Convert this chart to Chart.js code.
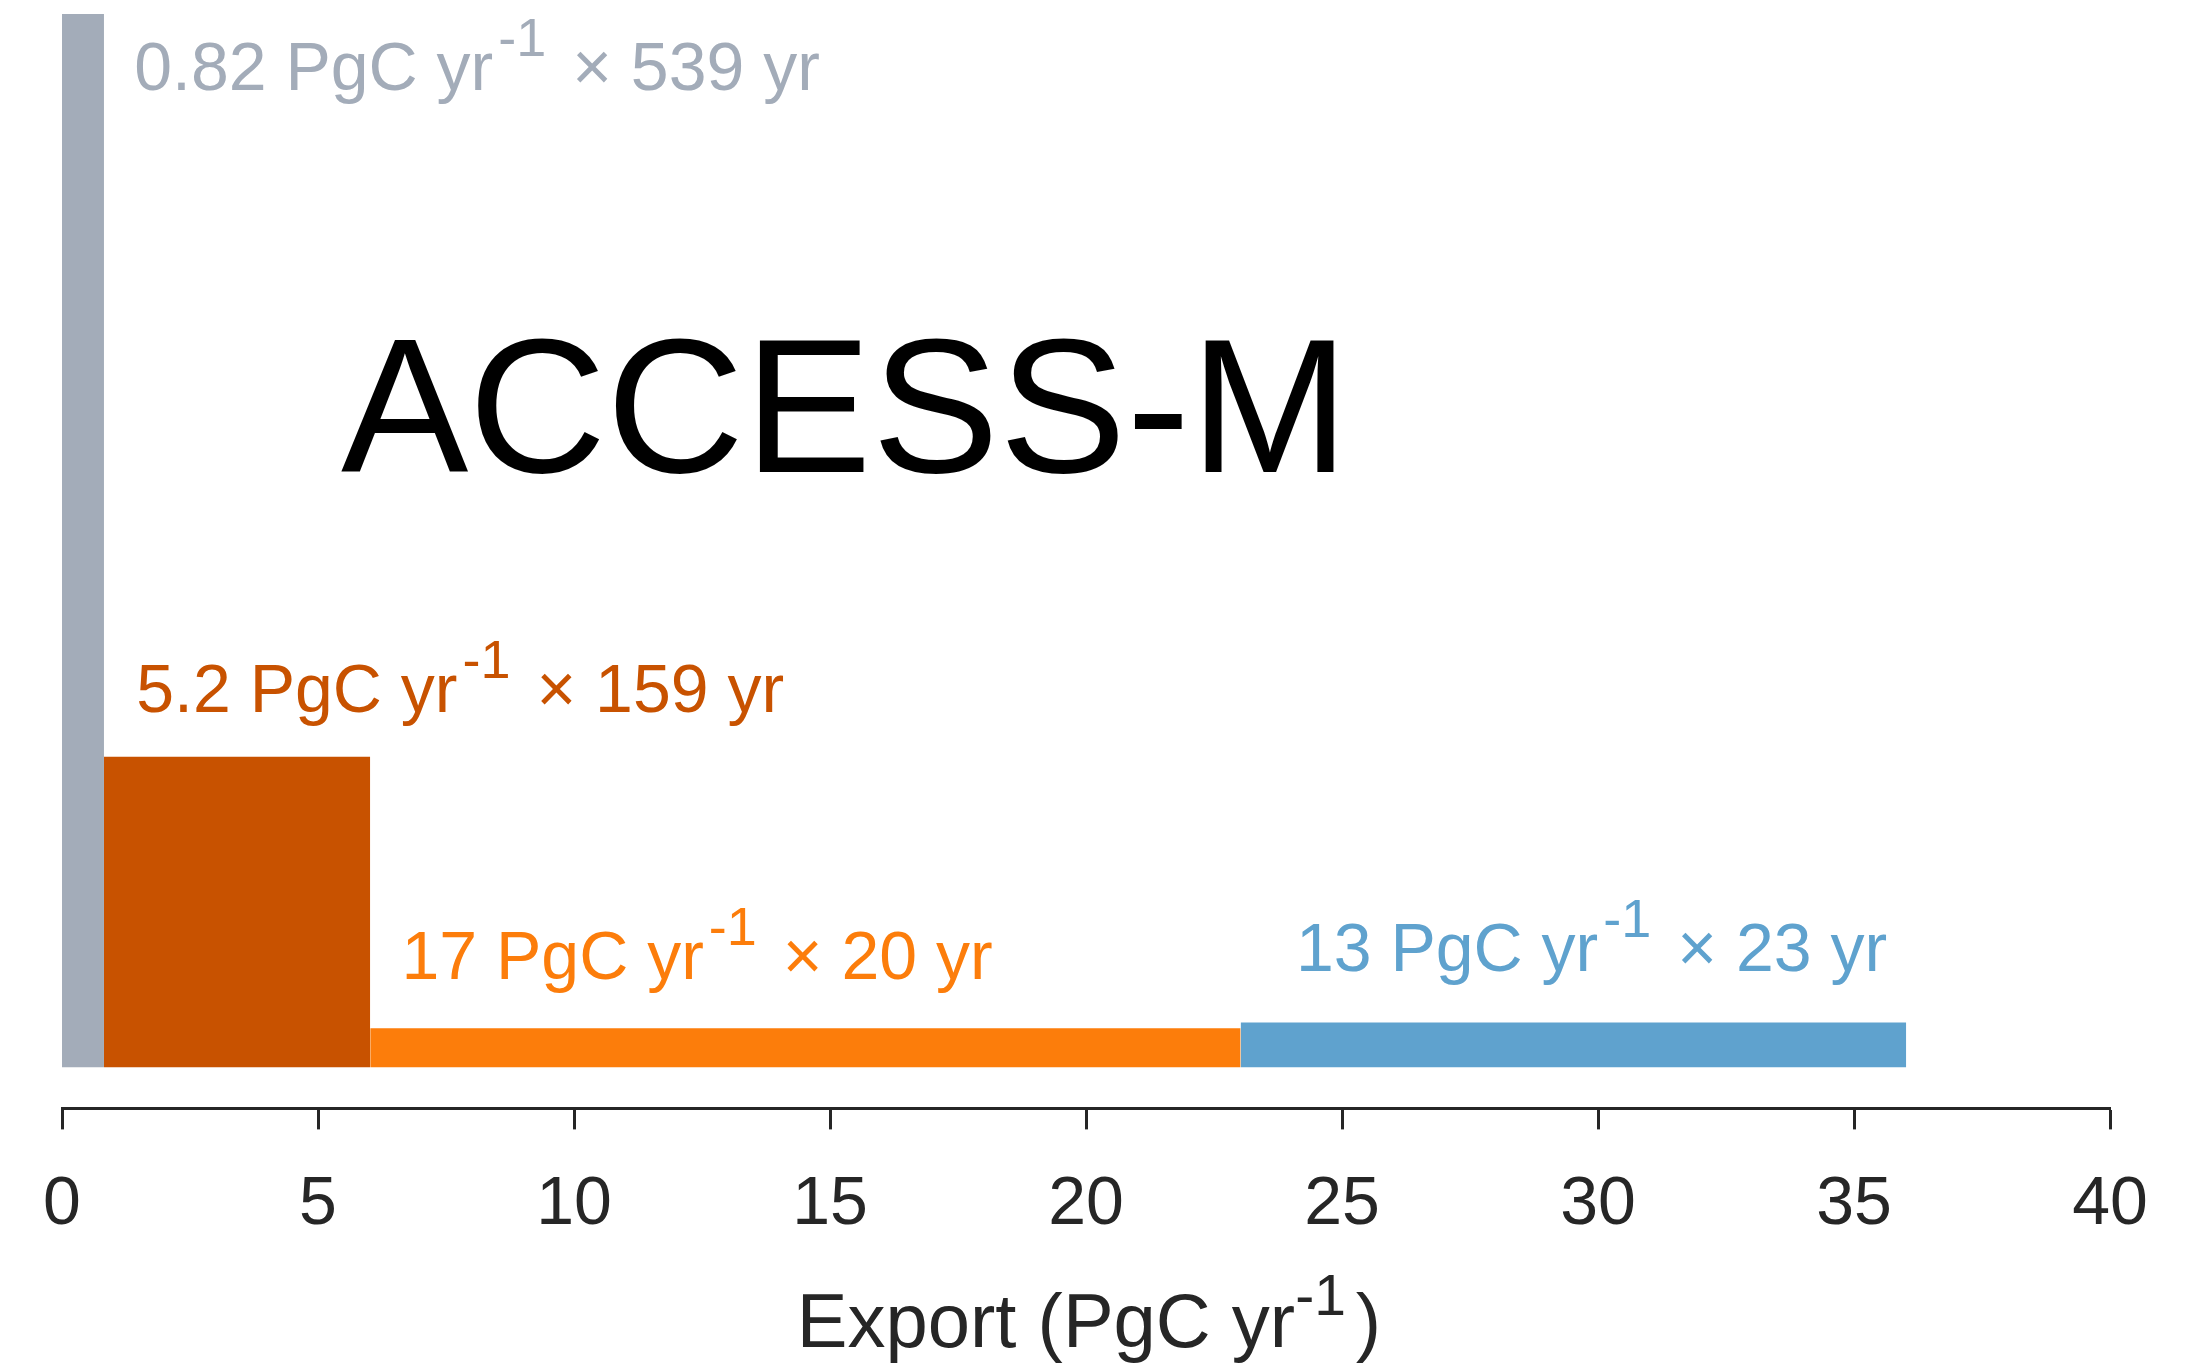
<!DOCTYPE html>
<html>
<head>
<meta charset="utf-8">
<title>ACCESS-M export</title>
<script src="https://cdn.jsdelivr.net/npm/chart.js@4.4.1/dist/chart.umd.min.js"></script>
<style>
  html, body { margin: 0; padding: 0; background: #ffffff; }
  #wrap { width: 2198px; height: 1365px; position: relative; }
</style>
</head>
<body>
<div id="wrap"><canvas id="chart"></canvas></div>
<script>
// ---- data ----
const modelName = 'ACCESS-M';
const exportRates = [0.82, 5.2, 17, 13];      // PgC yr-1 (bar widths)
const durations = [539, 159, 20, 23];         // yr (bar heights)
const xTickValues = [0, 5, 10, 15, 20, 25, 30, 35, 40];
const xTitleParts = ['Export (PgC yr', '-1', ')'];

// ---- styling ----
const FONT = '"Liberation Sans", Arial, Helvetica, sans-serif';
const AXIS_COLOR = '#262626';
const barColors = ['#A3ACB9', '#C85200', '#FC7D0B', '#5FA2CE'];
// where each bar's caption sits: x in export units, y as pixel offset from bar top
const captionX = [1.41, 1.45, 6.63, 24.1];
const captionDy = [76, -45, -49, -51];

// left edge of each bar = running total of the widths before it
const barStarts = exportRates.map((_, i) =>
  exportRates.slice(0, i).reduce((a, b) => a + b, 0));

const datasets = exportRates.map((w, i) => ({
  data: [
    { x: barStarts[i], y: durations[i] },
    { x: barStarts[i] + w, y: durations[i] }
  ],
  backgroundColor: barColors[i],
  borderColor: barColors[i],
  borderWidth: 0,
  pointRadius: 0,
  pointHoverRadius: 0,
  tension: 0,
  fill: 'origin'
}));

// text with a raised exponent part
function drawRich(ctx, parts, x, y, align, color) {
  let total = 0;
  parts.forEach(p => {
    ctx.font = `${p.size}px ${FONT}`;
    p.w = ctx.measureText(p.text).width;
    total += (p.gap || 0) + p.w;
  });
  let cx = align === 'right' ? x - total : align === 'center' ? x - total / 2 : x;
  ctx.fillStyle = color;
  ctx.textAlign = 'left';
  ctx.textBaseline = 'alphabetic';
  parts.forEach(p => {
    cx += p.gap || 0;
    ctx.font = `${p.size}px ${FONT}`;
    ctx.fillText(p.text, cx, y - (p.raise || 0));
    cx += p.w;
  });
}

const annotations = {
  id: 'annotations',
  afterDatasetsDraw(chart) {
    const { ctx, chartArea } = chart;
    const xs = chart.scales.x, ys = chart.scales.y;
    ctx.save();

    // bar captions
    exportRates.forEach((w, i) => {
      const top = ys.getPixelForValue(durations[i]);
      const x = xs.getPixelForValue(captionX[i]);
      drawRich(ctx, [
        { text: `${w} PgC yr`, size: 68 },
        { text: '-1', size: 54, raise: 34, gap: 5 },
        { text: `\u00D7 ${durations[i]} yr`, size: 68, gap: 26 }
      ], x, top + captionDy[i], 'left', barColors[i]);
    });

    // model name
    ctx.font = `191px ${FONT}`;
    ctx.fillStyle = '#000000';
    ctx.textAlign = 'left';
    ctx.textBaseline = 'alphabetic';
    ctx.fillText(modelName, chartArea.left + 279, chartArea.top + 458);

    // x-axis title
    drawRich(ctx, [
      { text: xTitleParts[0], size: 76 },
      { text: xTitleParts[1], size: 57, raise: 32, gap: 0 },
      { text: xTitleParts[2], size: 76, gap: 10 }
    ], (xs.left + xs.right) / 2 + 3, 1347, 'center', AXIS_COLOR);

    ctx.restore();
  }
};

new Chart(document.getElementById('chart'), {
  type: 'line',
  data: { datasets },
  plugins: [annotations],
  options: {
    responsive: true,
    maintainAspectRatio: false,
    animation: false,
    events: [],
    layout: { padding: { left: 62, right: 88, top: 14, bottom: 84 } },
    plugins: {
      legend: { display: false },
      tooltip: { enabled: false },
      title: { display: false }
    },
    scales: {
      x: {
        type: 'linear',
        min: 0,
        max: 40,
        afterBuildTicks: s => { s.ticks = xTickValues.map(v => ({ value: v })); },
        border: { display: true, color: AXIS_COLOR, width: 3 },
        grid: {
          display: true,
          drawOnChartArea: false,
          drawTicks: true,
          tickLength: 21,
          tickWidth: 3,
          tickColor: AXIS_COLOR
        },
        ticks: {
          color: AXIS_COLOR,
          padding: 35,
          maxRotation: 0,
          autoSkip: false,
          font: { family: FONT, size: 68 },
          callback: v => String(v)
        }
      },
      y: {
        type: 'linear',
        display: false,
        min: -21,
        max: 539
      }
    }
  }
});
</script>
</body>
</html>
